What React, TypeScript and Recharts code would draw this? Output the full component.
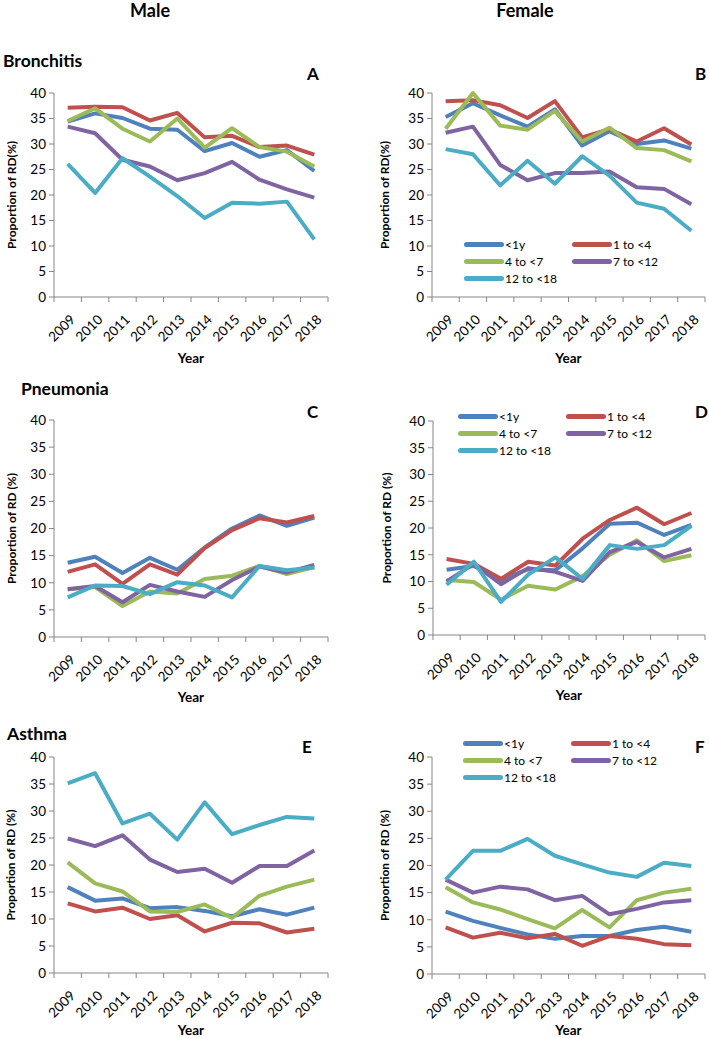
import React from 'react';
import { LineChart, Line, XAxis, YAxis, Legend } from 'recharts';

const FONT = 'Lato, "Open Sans", sans-serif';
const AXIS = '#868686';

const YEARS = [2009, 2010, 2011, 2012, 2013, 2014, 2015, 2016, 2017, 2018];
const BOUNDS = [2008.5, 2009.5, 2010.5, 2011.5, 2012.5, 2013.5, 2014.5, 2015.5, 2016.5, 2017.5, 2018.5];
const Y_TICKS = [0, 5, 10, 15, 20, 25, 30, 35, 40];
const GROUPS = ['<1y', '1 to <4', '4 to <7', '7 to <12', '12 to <18'];
const COLORS = ['#4F81BD', '#C0504D', '#9BBB59', '#8064A2', '#4BACC6'];

// rows follow GROUPS order
const MALE_BRONCHITIS = [
  [34.4, 36.0, 35.1, 33.0, 32.8, 28.6, 30.2, 27.5, 28.8, 24.7],
  [37.1, 37.3, 37.2, 34.6, 36.1, 31.3, 31.6, 29.4, 29.7, 27.9],
  [34.5, 37.0, 33.0, 30.5, 35.0, 29.3, 33.1, 29.4, 28.5, 25.6],
  [33.4, 32.1, 26.9, 25.6, 22.9, 24.3, 26.5, 23.0, 21.1, 19.5],
  [26.1, 20.4, 27.2, 23.6, 19.8, 15.5, 18.5, 18.3, 18.7, 11.3],
];
const FEMALE_BRONCHITIS = [
  [35.3, 38.0, 35.6, 33.4, 36.8, 29.7, 32.5, 30.0, 30.7, 29.1],
  [38.4, 38.6, 37.6, 35.1, 38.4, 31.3, 32.9, 30.5, 33.1, 29.9],
  [33.0, 40.0, 33.6, 32.8, 36.5, 30.5, 33.2, 29.2, 28.8, 26.6],
  [32.2, 33.4, 25.9, 22.9, 24.3, 24.3, 24.6, 21.5, 21.2, 18.2],
  [29.0, 28.0, 21.9, 26.7, 22.2, 27.6, 23.8, 18.5, 17.3, 13.0],
];
const MALE_PNEUMONIA = [
  [13.7, 14.8, 11.8, 14.6, 12.4, 16.5, 20.0, 22.4, 20.5, 22.0],
  [12.0, 13.4, 9.8, 13.4, 11.5, 16.4, 19.7, 21.9, 21.1, 22.3],
  [8.8, 9.2, 5.7, 8.4, 8.0, 10.7, 11.3, 13.1, 11.6, 12.9],
  [8.8, 9.4, 6.4, 9.6, 8.4, 7.4, 10.5, 13.0, 11.9, 13.3],
  [7.3, 9.5, 9.4, 7.9, 10.1, 9.5, 7.3, 13.1, 12.3, 12.8],
];
const FEMALE_PNEUMONIA = [
  [12.2, 12.9, 10.3, 12.3, 12.1, 16.2, 20.8, 21.0, 18.7, 20.6],
  [14.2, 13.3, 10.5, 13.7, 13.0, 18.0, 21.5, 23.8, 20.7, 22.8],
  [10.3, 9.9, 6.6, 9.2, 8.5, 11.0, 15.0, 17.7, 13.8, 14.9],
  [10.0, 13.3, 9.5, 12.5, 11.8, 10.1, 15.5, 17.4, 14.5, 16.1],
  [9.4, 13.7, 6.2, 11.3, 14.5, 10.5, 16.8, 16.1, 16.8, 20.4],
];
const MALE_ASTHMA = [
  [15.9, 13.4, 13.8, 12.0, 12.2, 11.5, 10.5, 11.8, 10.8, 12.1],
  [12.9, 11.4, 12.1, 10.0, 10.7, 7.7, 9.3, 9.2, 7.5, 8.2],
  [20.5, 16.6, 15.1, 11.4, 11.3, 12.7, 10.2, 14.3, 16.0, 17.3],
  [24.9, 23.5, 25.5, 21.0, 18.7, 19.3, 16.7, 19.8, 19.8, 22.7],
  [35.1, 37.0, 27.7, 29.5, 24.7, 31.6, 25.7, 27.4, 28.9, 28.6],
];
const FEMALE_ASTHMA = [
  [11.5, 9.8, 8.5, 7.3, 6.5, 7.0, 7.0, 8.1, 8.7, 7.8],
  [8.6, 6.7, 7.6, 6.6, 7.4, 5.2, 7.0, 6.5, 5.5, 5.3],
  [16.0, 13.2, 11.9, 10.1, 8.4, 11.8, 8.6, 13.6, 15.0, 15.7],
  [17.4, 15.0, 16.1, 15.6, 13.6, 14.4, 11.0, 12.0, 13.2, 13.6],
  [17.4, 22.7, 22.7, 24.9, 21.8, 20.2, 18.7, 17.9, 20.5, 19.9],
];

const YearTick = (props: any) => {
  const { x, y, payload } = props;
  const ax = x + 5;
  const ay = y + 7;
  return (
    <text x={ax} y={ay} dy="0.35em" textAnchor="end" transform={`rotate(-45 ${ax} ${ay})`}
      fontSize={13.5} fontFamily={FONT} fill="#000">
      {payload.value}
    </text>
  );
};

const LegendBox = (props: any) => {
  const items = [...(props.payload || [])].sort(
    (a: any, b: any) => GROUPS.indexOf(a.value) - GROUPS.indexOf(b.value),
  );
  return (
    <div style={{ display: 'grid', gridTemplateColumns: '108px 108px', fontSize: 12, fontFamily: FONT, color: '#000' }}>
      {items.map((p: any) => (
        <div key={p.value} style={{ display: 'flex', alignItems: 'center', height: 17 }}>
          <span style={{ width: 40, height: 5, background: p.color, borderRadius: 3, marginRight: 1 }} />
          <span>{p.value}</span>
        </div>
      ))}
    </div>
  );
};

type PanelProps = {
  x0: number;
  plot: [number, number, number, number];
  rows: number[][];
  yLabel: string;
  labelX: number;
  yearGap: number;
  legend?: [number, number];
};

const Panel = ({ x0, plot, rows, yLabel, labelX, yearGap, legend }: PanelProps) => {
  const [pl, pt, pr, pb] = plot;
  const top = pt - 15;
  const width = pr - x0 + 8;
  const labelAxisH = yearGap - 1;
  const height = pb - top + 5 + labelAxisH;
  const data = YEARS.map((year, i) => {
    const d: any = { year };
    GROUPS.forEach((g, k) => { d[g] = rows[k][i]; });
    return d;
  });
  return (
    <div style={{ position: 'absolute', left: x0, top }}>
      <LineChart width={width} height={height} data={data} margin={{ top: 15, right: 8, bottom: 0, left: 0 }}>
        <XAxis xAxisId="b" type="number" dataKey="year" domain={[2008.5, 2018.5]} ticks={BOUNDS} interval={0}
          tick={() => <g />} tickSize={5} height={5} stroke={AXIS} />
        <XAxis xAxisId="l" type="number" dataKey="year" domain={[2008.5, 2018.5]} ticks={YEARS} interval={0}
          tick={<YearTick />} axisLine={false} tickLine={false} height={labelAxisH}
          label={{ value: 'Year', position: 'insideBottom', offset: 4, fontSize: 13.5, fontWeight: 700, fill: '#000', fontFamily: FONT }} />
        <YAxis domain={[0, 40]} ticks={Y_TICKS} interval={0} width={pl - x0} stroke={AXIS} tickSize={5} tickMargin={3}
          tick={{ fill: '#000', fontSize: 13.5, fontFamily: FONT }}
          label={{ value: yLabel, angle: -90, position: 'insideLeft', offset: labelX - x0, fontSize: 12, fontWeight: 700, fill: '#000', fontFamily: FONT, style: { textAnchor: 'middle' } }} />
        {GROUPS.map((g, k) => (
          <Line key={g} xAxisId="b" type="linear" dataKey={g} name={g} stroke={COLORS[k]} strokeWidth={4}
            dot={false} activeDot={false} strokeLinejoin="round" isAnimationActive={false} />
        ))}
        {legend && (
          <Legend layout="horizontal" verticalAlign="middle" align="center" content={<LegendBox />}
            wrapperStyle={{ left: legend[0] - x0, top: legend[1] - top, width: 220 }} />
        )}
      </LineChart>
    </div>
  );
};

const Title = ({ text, left, top, size, center }: { text: string; left: number; top: number; size: number; center?: boolean }) => (
  <div style={{
    position: 'absolute', left: center ? left - 60 : left, top, width: center ? 120 : undefined,
    textAlign: center ? 'center' : 'left', fontSize: size, fontWeight: 700, lineHeight: 1, fontFamily: FONT, color: '#000',
  }}>{text}</div>
);

export default function App() {
  return (
    <div style={{ position: 'absolute', left: 0, top: 0, width: 709, height: 1038, background: '#fff', overflow: 'hidden' }}>
      <Panel x0={0} plot={[54, 93, 328, 297]} rows={MALE_BRONCHITIS} yLabel="Proportion of RD(%)" labelX={12} yearGap={66} />
      <Panel x0={355} plot={[432, 93, 705, 297]} rows={FEMALE_BRONCHITIS} yLabel="Proportion of RD(%)" labelX={385} yearGap={66} legend={[464, 236]} />
      <Panel x0={0} plot={[54, 420, 328, 637]} rows={MALE_PNEUMONIA} yLabel="Proportion of RD (%)" labelX={12} yearGap={65} />
      <Panel x0={355} plot={[433, 421, 705, 635]} rows={FEMALE_PNEUMONIA} yLabel="Proportion of RD (%)" labelX={387} yearGap={65} legend={[458, 408]} />
      <Panel x0={0} plot={[54, 757, 328, 973]} rows={MALE_ASTHMA} yLabel="Proportion of RD (%)" labelX={11} yearGap={62} />
      <Panel x0={355} plot={[432, 757, 705, 974]} rows={FEMALE_ASTHMA} yLabel="Proportion of RD (%)" labelX={385} yearGap={61} legend={[463, 735]} />

      <Title text="Male" left={150} top={1} size={18} center />
      <Title text="Female" left={525} top={1} size={18} center />
      <Title text="Bronchitis" left={3} top={52} size={17.5} />
      <Title text="A" left={307} top={65} size={17} />
      <Title text="B" left={695} top={65} size={17} />
      <Title text="Pneumonia" left={21} top={380} size={17.5} />
      <Title text="C" left={307} top={403} size={17} />
      <Title text="D" left={695} top={403} size={17} />
      <Title text="Asthma" left={7} top={725} size={17.5} />
      <Title text="E" left={302} top={738} size={17} />
      <Title text="F" left={695} top={738} size={17} />
    </div>
  );
}
